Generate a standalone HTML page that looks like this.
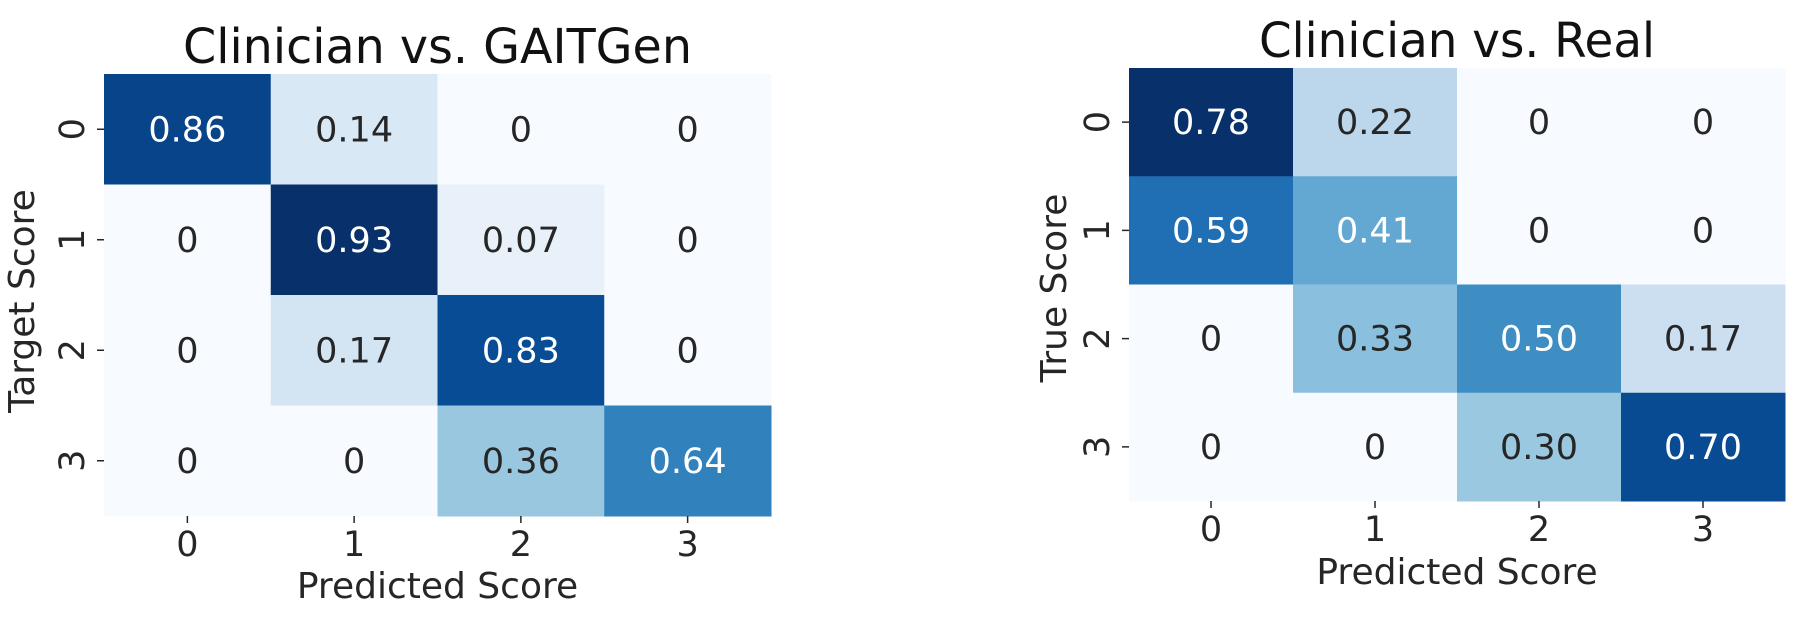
<!DOCTYPE html>
<html><head><meta charset="utf-8"><style>
body{margin:0;background:#fff}
svg{display:block;font-family:"DejaVu Sans","Liberation Sans",sans-serif}
</style></head><body>
<svg id="chart" width="1810" height="638" viewBox="0 0 1810 638"></svg>
<script>
const categories = ["0","1","2","3"];
const leftValues = [[0.86,0.14,0,0],[0,0.93,0.07,0],[0,0.17,0.83,0],[0,0,0.36,0.64]];
const rightValues = [[0.78,0.22,0,0],[0.59,0.41,0,0],[0,0.33,0.50,0.17],[0,0,0.30,0.70]];
const leftLabels = [["0.86","0.14","0","0"],["0","0.93","0.07","0"],["0","0.17","0.83","0"],["0","0","0.36","0.64"]];
const rightLabels = [["0.78","0.22","0","0"],["0.59","0.41","0","0"],["0","0.33","0.50","0.17"],["0","0","0.30","0.70"]];

const NS="http://www.w3.org/2000/svg";
const svg=document.getElementById('chart');
const stops=["#f7fbff","#deebf7","#c6dbef","#9ecae1","#6baed6","#4292c6","#2171b5","#08519c","#08306b"].map(h=>[parseInt(h.slice(1,3),16),parseInt(h.slice(3,5),16),parseInt(h.slice(5,7),16)]);
function blues(t){t=Math.max(0,Math.min(1,t));const p=t*(stops.length-1);const i=Math.min(Math.floor(p),stops.length-2);const f=p-i;
return stops[i].map((c,k)=>Math.round(c+(stops[i+1][k]-c)*f));}
function lum(c){const l=c.map(v=>{v/=255;return v<=0.03928?v/12.92:Math.pow((v+0.055)/1.055,2.4)});return 0.2126*l[0]+0.7152*l[1]+0.0722*l[2];}
function mk(tag,attrs,parent){const e=document.createElementNS(NS,tag);for(const k in attrs)e.setAttribute(k,attrs[k]);(parent||svg).appendChild(e);return e;}

function heatmap(cfg){
  const g=mk('g',{});
  
  
  const n=categories.length;
  const cw=(cfg.x1-cfg.x0)/n, ch=(cfg.y1-cfg.y0)/n;
  const xs=i=>cfg.x0+i*cw, ys=j=>cfg.y0+j*ch;
  let vmax=0;cfg.values.forEach(r=>r.forEach(v=>{if(v>vmax)vmax=v;}));
  cfg.values.forEach((row,j)=>row.forEach((v,i)=>{
    const c=blues(v/vmax);
    const r=mk('rect',{x:xs(i),y:ys(j),width:cw+0.5,height:ch+0.5,fill:`rgb(${c})`},g);
    
    
    const t=mk('text',{x:xs(i)+cw/2,y:ys(j)+ch/2+12,'text-anchor':'middle','font-size':35,fill:lum(c)>0.408?'#262626':'#ffffff'},g);
    t.textContent=cfg.labels[j][i];
    
    
  }));
  categories.forEach((lab,i)=>{
    const cx=xs(i)+cw/2;
    mk('line',{x1:cx,x2:cx,y1:cfg.y1,y2:cfg.y1+7,stroke:'#262626','stroke-width':1.5},g);
    const t=mk('text',{x:cx,y:cfg.y1+40,'text-anchor':'middle','font-size':35,fill:'#262626'},g);
    t.textContent=lab;
    
    
    const cy=ys(i)+ch/2;
    mk('line',{x1:cfg.x0-7,x2:cfg.x0,y1:cy,y2:cy,stroke:'#262626','stroke-width':1.5},g);
    const ty=mk('text',{x:0,y:0,'text-anchor':'middle','font-size':35,fill:'#262626',transform:`translate(${cfg.x0-20},${cy}) rotate(-90)`},g);
    ty.textContent=lab;
    
    
  });
  const xl=mk('text',{x:(cfg.x0+cfg.x1)/2,y:cfg.xlabY,'text-anchor':'middle','font-size':36,fill:'#262626'},g);
  xl.textContent='Predicted Score';
  
  
  const yl=mk('text',{x:0,y:0,'text-anchor':'middle','font-size':36,fill:'#262626',transform:`translate(${cfg.ylabX},${cfg.ylabY}) rotate(-90)`},g);
  yl.textContent=cfg.ylabel;
  
  
  const tt=mk('text',{x:(cfg.x0+cfg.x1)/2,y:cfg.titleY,'text-anchor':'middle','font-size':48,fill:'#111',textLength:cfg.titleW,lengthAdjust:'spacingAndGlyphs'},g);
  tt.textContent=cfg.title;
  
  
}
heatmap({name:'heatmap-clinician-vs-gaitgen',values:leftValues,labels:leftLabels,x0:104,x1:771,y0:74,y1:516,xlabY:598,ylabX:34,ylabY:301,ylabel:'Target Score',title:'Clinician vs. GAITGen',titleY:63,titleW:509});
heatmap({name:'heatmap-clinician-vs-real',values:rightValues,labels:rightLabels,x0:1129,x1:1785,y0:68,y1:501,xlabY:584,ylabX:1066,ylabY:288,ylabel:'True Score',title:'Clinician vs. Real',titleY:57,titleW:396});
</script>
</body></html>
